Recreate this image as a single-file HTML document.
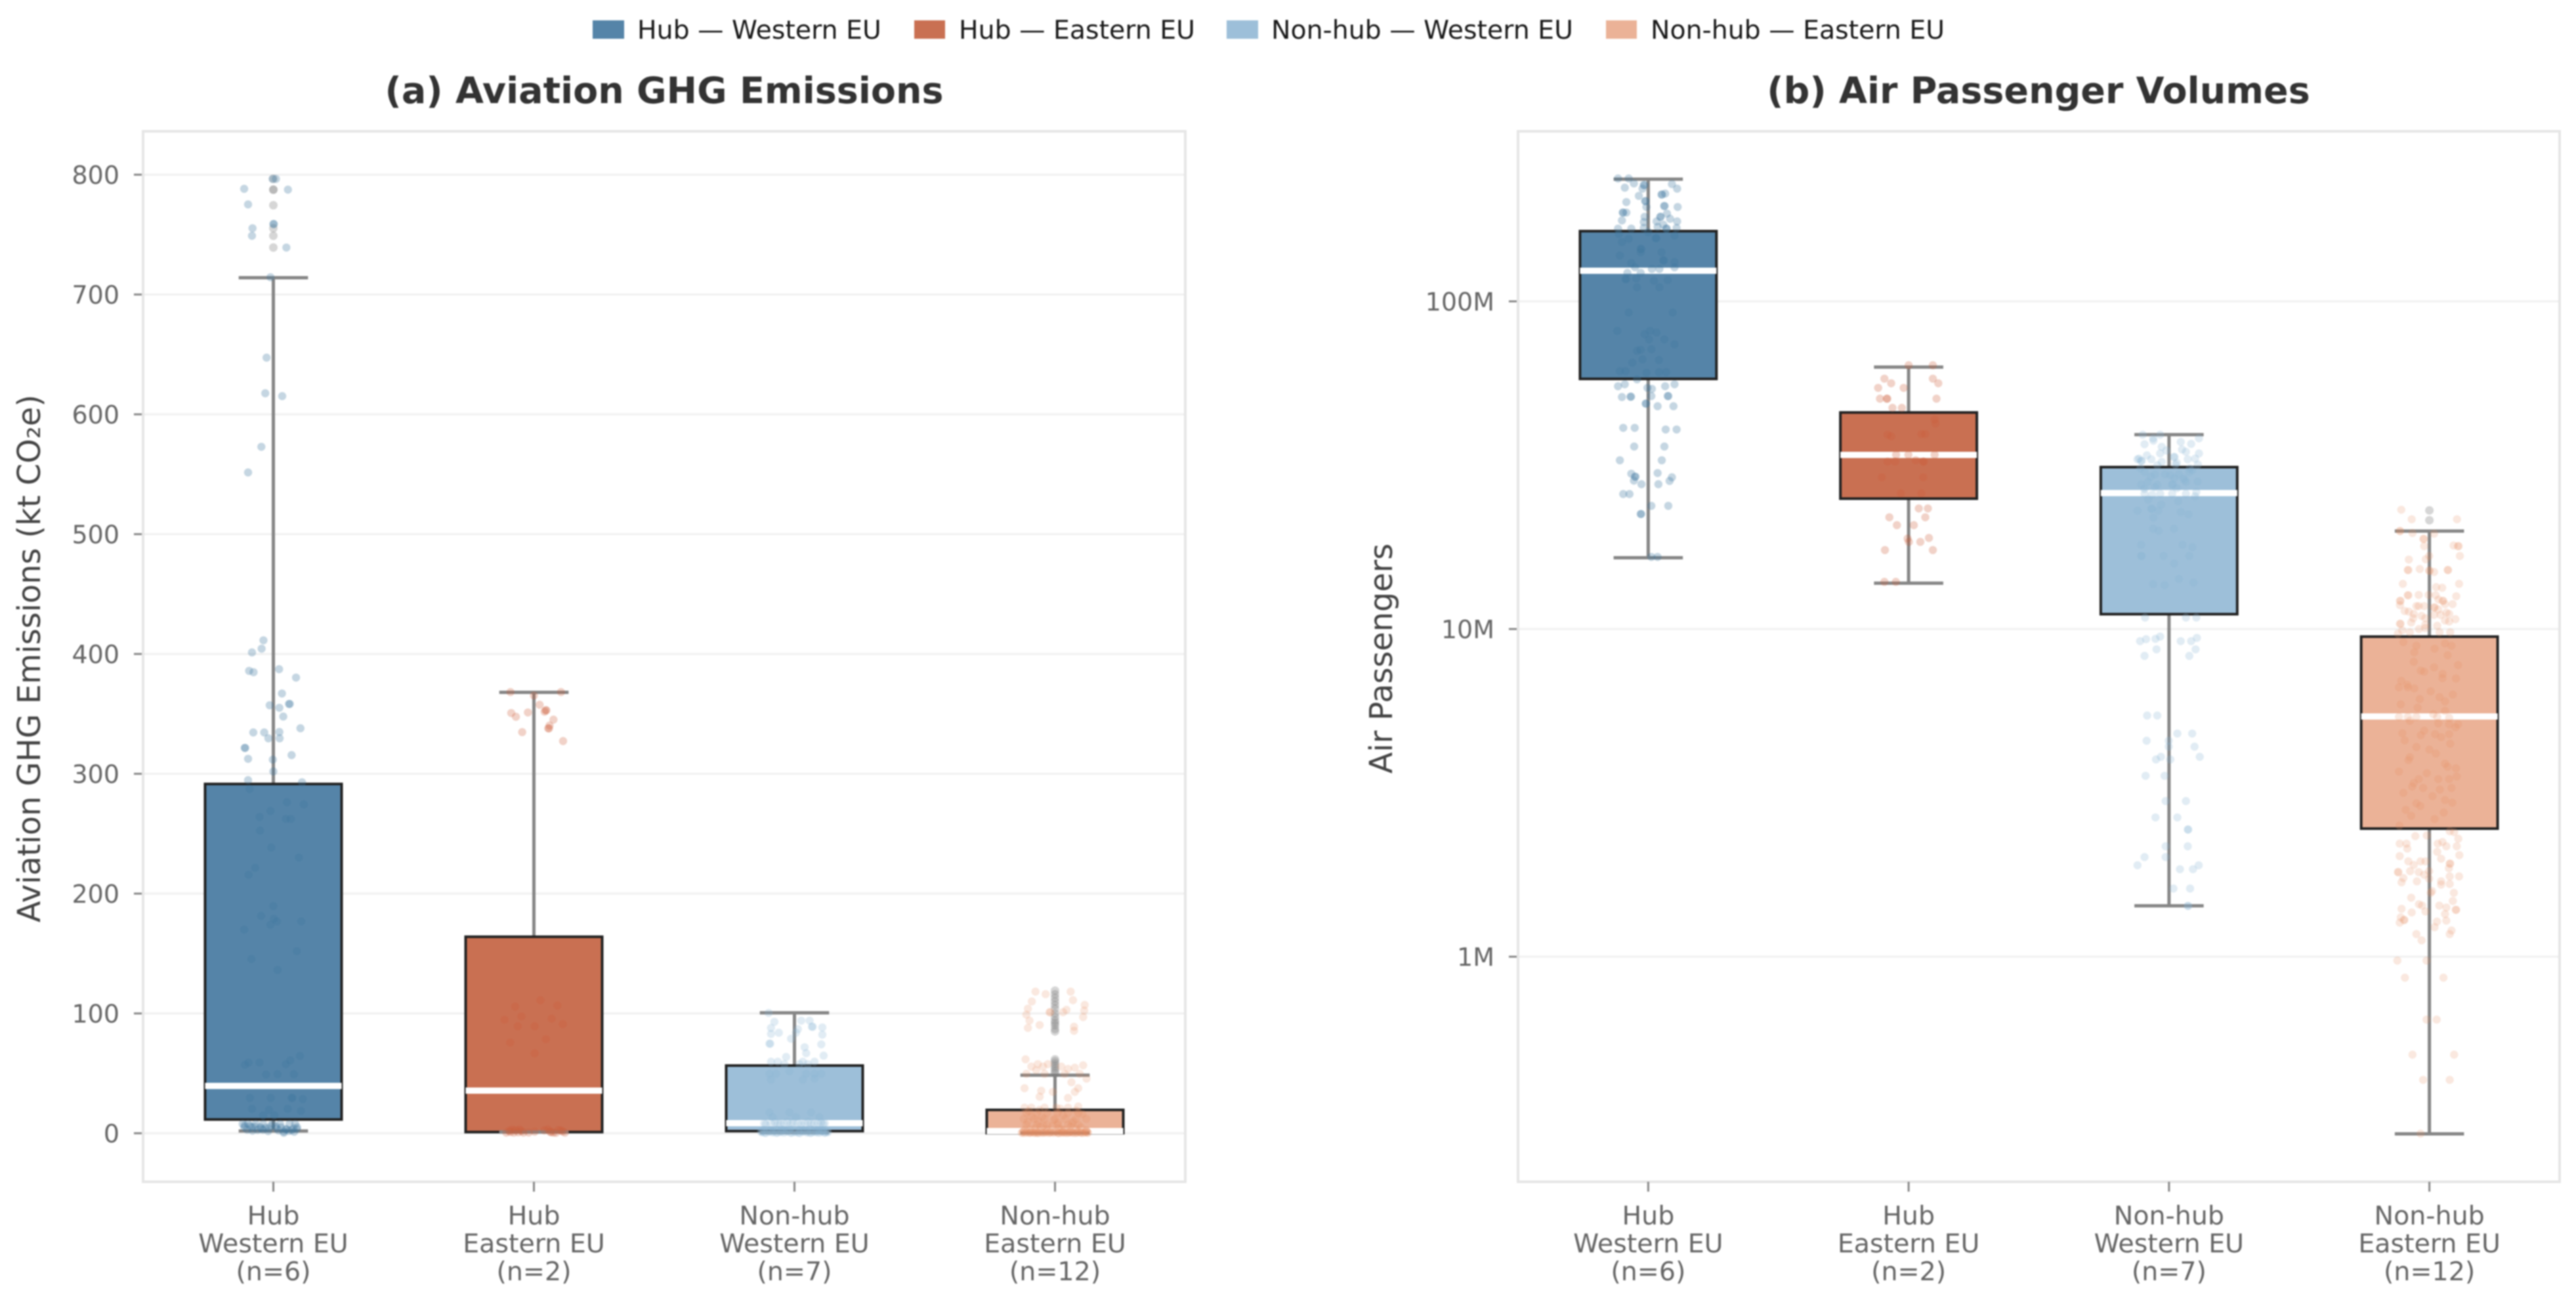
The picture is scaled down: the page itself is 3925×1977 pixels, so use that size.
<!DOCTYPE html>
<html lang="en">
<head>
<meta charset="utf-8">
<title>Aviation GHG Emissions and Air Passenger Volumes</title>
<style>
html,body{margin:0;padding:0;background:#fff;}
svg{display:block;font-family:"DejaVu Sans","Liberation Sans",sans-serif;filter:blur(1px);}
</style>
</head>
<body>
<svg id="chart" xmlns="http://www.w3.org/2000/svg" width="3925" height="1977" viewBox="0 0 3925 1977">
  <rect x="0" y="0" width="3925" height="1977" fill="#fff"/>
  <g>
    <g>
      <rect x="903" y="31" width="48" height="28" fill="#5584a8"/>
      <text x="971" y="59" font-size="39.4" fill="#1a1a1a">Hub — Western EU</text>
    </g>
    <g>
      <rect x="1393" y="31" width="47" height="28" fill="#c97052"/>
      <text x="1461" y="59" font-size="39.4" fill="#1a1a1a">Hub — Eastern EU</text>
    </g>
    <g>
      <rect x="1869" y="31" width="48" height="28" fill="#9dbfd9"/>
      <text x="1937" y="59" font-size="39.4" fill="#1a1a1a">Non-hub — Western EU</text>
    </g>
    <g>
      <rect x="2447" y="31" width="47" height="28" fill="#ebb297"/>
      <text x="2515" y="59" font-size="39.4" fill="#1a1a1a">Non-hub — Eastern EU</text>
    </g>
  </g>
  <text x="1012" y="157" font-size="55.5" font-weight="700" fill="#333" text-anchor="middle">(a) Aviation GHG Emissions</text>
  <text x="3106" y="157" font-size="55.5" font-weight="700" fill="#333" text-anchor="middle">(b) Air Passenger Volumes</text>
  <text transform="translate(61 1003) rotate(-90)" font-size="47.8" fill="#444" text-anchor="middle">Aviation GHG Emissions (kt CO₂e)</text>
  <text transform="translate(2121 1003) rotate(-90)" font-size="47.8" fill="#444" text-anchor="middle">Air Passengers</text>
  <g id="panel-a"></g>
  <g id="panel-b"></g>
</svg>
<script>
// Categories
const categoryLines = [["Hub","Western EU","(n=6)"],["Hub","Eastern EU","(n=2)"],["Non-hub","Western EU","(n=7)"],["Non-hub","Eastern EU","(n=12)"]];
const categorySlugs = ["hub-western","hub-eastern","nonhub-western","nonhub-eastern"];

// Panel (a): tick values and box statistics, kt CO2e
const ghgTicks = [0,100,200,300,400,500,600,700,800];
const ghgWhiskerLow = [1.9,1,0.5,0.2];
const ghgQ1 = [11.5,1,1.8,0.1];
const ghgMedian = [39.5,35.6,8.4,1.8];
const ghgQ3 = [291.5,164,56.5,19.5];
const ghgWhiskerHigh = [714,368,100.5,48.5];

// Panel (a): observations (value) and horizontal jitter (fraction of a category slot)
const ghgHubWest = [796.5,796.5,788.2,787.5,775.2,755.3,758.8,758.8,749,739.2,
714.4,647.3,617.6,615.2,572.9,551.5,411.4,404.4,401.3,385.9,
384.8,387.3,380.3,367,357.2,355.1,358.3,358.3,347.8,338,
334.5,334.5,334.9,329.6,329.6,321.6,321.6,312.5,311.8,315.6,
302,294.7,292.9,287.3,276.3,274.5,269,264,262.3,262.3,
252.6,238.5,230.1,221.5,215.7,189.6,181.4,179,176.8,174,
176.8,170,152,145.4,136.3,64.5,60.8,57.7,59,59,
57.2,49,49.3,49.3,29.5,29.5,29.5,29.5,28.6,20.4,
19.5,20.4,18.6,15,15,7.7,7.7,7.7,7.7,7.7,
7.7,7.7,5,5,4,4,4,3.2,4,0.4,5,7.7];
const ghgHubWestJitter = [-.003,.01,-.112,.056,-.097,-.08,0,.002,-.082,.05,
-.011,-.026,-.031,.034,-.046,-.097,-.038,-.045,-.082,-.093,
-.076,.022,.087,.033,-.014,.023,.06,.063,.038,.104,
-.077,-.035,.023,.024,-.019,-.11,-.108,-.097,-.002,.07,
0,-.097,.11,-.091,.052,.117,-.011,-.053,.048,.067,
-.051,-.008,.098,-.07,-.095,0,-.047,.002,.014,-.011,
.107,-.112,.09,-.084,.016,.102,.065,.048,-.053,-.095,
-.109,-.028,.016,.079,-.09,-.01,.07,.073,.113,-.082,
-.017,.055,.106,-.039,.004,-.097,-.068,-.039,-.003,.026,
.062,.084,-.111,-.082,-.046,-.017,.012,.048,.077,.04,.091,-.118];
const ghgHubWestDense = [6.5,6,5.5,5,4.5,6.2,5.8,4.8,3.5,2.6,3,2.2,2.8,1.8,2.4,1.5,2,1.2,3.6,2.9];
const ghgHubWestDenseJitter = [-.11,-.09,-.07,-.05,-.03,-.01,.01,.03,.05,.07,-.1,-.08,-.06,-.02,.02,.04,.06,.08,.09,-.04];

const ghgHubEast = [368.2,368.2,365.3,357.6,353,353,351.8,350.7,347.6,351.2,
345.2,340.3,337.9,337.9,334.8,327.3,111,106.6,105.7,97.5,
94.8,95.7,91.1,89.3,89.3,78.5,75.7,66.7,3.2,0.5,
3.2,0.5,1.3,3.2,0.5,2.3,0.5,0.5];
const ghgHubEastJitter = [-.09,.104,0,.022,.045,.048,.041,-.087,-.069,-.023,
.075,.06,.055,.058,-.045,.112,.025,.09,-.072,-.048,
-.113,.068,.111,-.062,.003,.046,-.091,.003,-.084,-.106,
-.055,-.04,.003,.054,.075,.104,.119,-.077];
const ghgHubEastDense = [2,1,2.6,0.8,1.8,0.6,2.4,1.2,0.4,2.8,1.5,0.9];
const ghgHubEastDenseJitter = [-.095,-.09,-.07,-.06,-.048,-.02,.04,.062,.085,.095,.11,.066];

const ghgNonhubWest = [100.4,93,94,94,88.9,88.9,88.3,87.9,86.9,83.9,
82.9,83.9,82.3,78.9,74.8,74.8,74.2,71.8,66.8,64.8,
63.7,59.7,59.7,59.7,59.7,57.7,57.7,57.7,49.6,49.6,
49.6,49.6,49.6,44.6,44.6,45.6,51.7,17.4,17.4,17.4,
13.4,13.4,13.4,8.3,8.3,8.3,8.3,8.3,8.3,8.3,
8.3,8.3,8.3,1.3,1.3,1.3,1.3,1.3,1.3,1.3,
1.3,1.3,1.3,1.3,0.5,0.5,0.5,0.5,0.5,0.5,
2.4,2.4,2.4,2.4];
const ghgNonhubWestJitter = [-.099,-.077,.026,.058,.067,.07,.107,-.09,.013,-.06,
-.09,.006,.107,-.013,-.096,-.093,.103,.039,.045,.112,
-.032,-.064,-.09,.032,.077,-.039,.019,.051,-.096,-.071,
.045,.077,.103,-.09,.032,.077,-.019,-.096,-.019,.064,
-.084,.006,.096,-.116,-.09,-.064,-.04,-.013,.013,.04,
.064,.09,.116,-.128,-.1,-.08,-.05,-.03,0,.03,
.05,.08,.1,.125,-.115,-.065,-.015,.015,.065,.115,
-.09,-.04,.04,.09];
const ghgNonhubWestDense = [0.9,0.2,1.6,0.7,0.3,1.1,0.5,1.8,0.4,1,0.2,1.4,0.6,0.3,1.2,0.8,0.4,1.7,0.5,0.9,
7.6,9,7.9,9.2,8.6,7.4,9.3,8,8.8,7.7,1.9,2.8,3.2,2.2,3.5,2.6,3,2.1];
const ghgNonhubWestDenseJitter = [-.125,-.11,-.095,-.085,-.07,-.055,-.04,-.025,-.01,.005,.02,.035,.048,.06,.072,.085,.095,.108,.118,.128,
-.11,-.075,-.055,-.028,-.005,.025,.052,.075,.102,.11,-.12,-.07,-.02,.02,.06,.09,-.045,.11];

const ghgNonhubEast = [118.2,116.1,118.2,110,111.1,107.1,104,103,102.4,101,
101,99,101,97,94,90.3,88.9,87.9,85.5,61.7,
55.7,57.7,55.7,57.7,55.7,53.7,56.7,54.7,49.6,52.7,
49.6,49.6,49.6,45.6,42.6,37.6,37.6,35.5,34.5,34.5,
30.5,29.5,21.4,21.4,21.4,21.4,21.4,22.4,17,17,
17,17,17,17,12,12,12,12,12,12,
12,7,7,7,7,7,7,0.6,0.6,0.6,
0.6,0.6,0.6,0.6,0.6,0.6,0.6,0.6,0.6,0.6,
0.6,0.6,0.6,0.6,0.6,1.6,1.6,1.6,1.6,1.6,
1.6,1.6,1.6,1.6];
const ghgNonhubEastJitter = [-.075,-.036,.06,-.089,.069,.114,-.104,.044,.112,-.021,
-.018,-.11,.031,.108,-.098,-.059,.073,-.104,.073,-.113,
-.091,-.066,-.046,-.027,.024,.05,.108,.076,-.11,-.072,
-.04,.037,.095,.121,.063,-.117,.089,-.053,-.008,.076,
-.059,.05,-.117,-.091,-.04,.005,.05,.089,-.11,-.07,
-.03,.01,.05,.09,-.12,-.08,-.04,0,.04,.08,
.12,-.11,-.07,-.03,.01,.05,.09,-.125,-.11,-.095,
-.08,-.065,-.05,-.035,-.02,-.005,.01,.025,.04,.055,
.07,.085,.1,.115,.125,-.12,-.09,-.06,-.03,0,
.03,.06,.09,.12];
const ghgNonhubEastDense = [0.4,0.2,1,0.3,0.8,0.5,1.2,0.2,0.9,0.4,1.1,0.3,0.7,0.5,1.3,0.2,0.9,0.6,0.3,1,
0.5,0.3,1.2,0.7,0.2,0.9,0.4,1.4,0.6,0.3,0.8,1.1,0.2,0.5,1,0.4,0.7,1.3,0.3,0.6,
2.8,3.5,4.4,5.2,3.1,6,4,2.6,5.5,3.8,4.8,2.4,6.4,3.3,9.5,10.4,11.2,8.6,14,15,16,13.5,9,10,18.5,19.5,20.5,19];
const ghgNonhubEastDenseJitter = [-.128,-.118,-.108,-.1,-.09,-.082,-.072,-.062,-.052,-.044,-.034,-.024,-.014,-.004,.006,.016,.026,.036,.046,.056,
.066,.076,.086,.096,.106,.116,.126,-.122,-.096,-.068,-.042,-.018,.012,.032,.062,.082,.102,.122,-.075,.05,
-.115,-.095,-.075,-.055,-.03,-.01,.015,.035,.06,.08,.1,.12,-.045,.025,-.105,-.065,-.005,.065,-.09,.03,.105,-.05,.012,.07,-.1,-.06,.02,.08];

// Panel (a): outliers, one list per category
const ghgHubWestFliers = [796.5,787.5,787.5,774.5,755.3,749,739.2];
const ghgHubEastFliers = [];
const ghgNonhubWestFliers = [];
const ghgNonhubEastFliers = [119,116,113,110,107,104,100,97,94,92,90,87,85,61.7,60,58,56,54,52,50];

// Panel (b): tick values (millions) and labels
const paxTicks = [100,10,1];
const paxTickLabels = ["100M","10M","1M"];
// Panel (b): box statistics, millions of passengers
const paxWhiskerLow = [16.5,13.8,1.43,0.288];
const paxQ1 = [58,25,11.1,2.46];
const paxMedian = [124,34,26,5.41];
const paxQ3 = [163.8,45.8,31.2,9.48];
const paxWhiskerHigh = [236,63,39.2,19.9];

// Panel (b): observations as log10(passengers) and horizontal jitter
const paxHubWest = [8.375,8.375,8.36,8.355,8.355,8.344,8.347,8.358,8.344,8.322,
8.326,8.326,8.329,8.303,8.306,8.306,8.288,8.291,8.291,8.288,
8.271,8.271,8.271,8.268,8.258,8.258,8.258,8.252,8.247,8.244,
8.242,8.244,8.234,8.222,8.222,8.224,8.227,8.222,8.222,8.224,
8.206,8.211,8.191,8.193,8.193,8.201,8.16,8.16,8.181,8.15,
8.14,8.125,8.125,8.12,8.117,8.15,8.104,8.099,8.099,8.104,
8.087,8.087,8.068,8.068,8.07,8.063,8.065,8.043,8.043,7.966,
7.966,7.91,7.91,7.9,7.905,7.884,7.884,7.869,7.852,7.854,
7.849,7.823,7.821,7.813,7.787,7.787,7.782,7.784,7.784,7.762,
7.741,7.747,7.736,7.733,7.741,7.747,7.708,7.709,7.709,7.711,
7.711,7.711,7.688,7.688,7.68,7.68,7.614,7.614,7.609,7.609,
7.557,7.557,7.515,7.515,7.474,7.465,7.465,7.476,7.463,7.452,
7.453,7.442,7.442,7.412,7.412,7.376,7.376,7.351,7.351,7.22,7.22];
const paxHubWestJitter = [-.116,-.075,-.055,-.017,-.015,-.022,-.09,.091,.111,-.036,
.051,.053,.065,-.084,-.012,-.01,-.007,.061,.063,.113,
-.098,-.096,-.084,.072,.046,.048,-.014,.084,-.101,.111,
-.017,.032,.058,-.116,-.065,-.017,.036,.069,.071,.109,
-.113,0,-.075,.029,.031,.101,-.029,-.027,-.101,.051,
-.109,.058,.06,.101,-.065,-.029,-.051,.014,.043,.101,
-.08,-.029,-.087,-.085,-.046,.022,.075,-.043,.043,-.075,
.094,-.119,.007,-.014,.032,.003,.062,.101,-.029,.012,
-.043,-.022,.041,-.061,-.109,-.087,-.007,.041,.069,-.043,
-.116,-.09,-.003,.014,.065,.101,-.101,-.068,-.066,.012,
.075,.077,-.01,-.008,.036,.097,-.096,-.052,.067,.109,
-.054,.062,-.109,.052,-.065,-.051,-.049,.036,.091,.082,
-.055,-.026,.039,-.096,-.072,.012,.077,-.029,-.027,.012,.036];

const paxHubEast = [7.805,7.805,7.764,7.764,7.75,7.75,7.736,7.736,7.703,7.703,
7.703,7.703,7.675,7.675,7.639,7.627,7.593,7.588,7.595,7.595,
7.532,7.532,7.532,7.511,7.511,7.515,7.511,7.511,7.463,7.463,
7.414,7.414,7.368,7.368,7.341,7.341,7.317,7.317,7.276,7.278,
7.266,7.266,7.241,7.241,7.144,7.144];
const paxHubEastJitter = [0,.093,-.093,.093,-.067,.114,-.117,-.019,-.11,-.084,
-.082,.107,-.062,-.026,.1,.103,-.081,-.067,.049,.064,
-.048,-.001,.1,-.081,-.052,.027,.056,.058,-.103,.056,
-.03,.049,.039,.074,-.074,.064,-.045,.02,-.004,.078,
.001,.045,-.091,.093,-.093,-.049];

const paxNonhubWest = [7.593,7.593,7.582,7.564,7.556,7.571,7.582,7.518,7.513,7.513,
7.536,7.525,7.525,7.541,7.536,7.518,7.518,7.51,7.502,7.502,
7.479,7.472,7.472,7.472,7.479,7.449,7.441,7.441,7.449,7.441,
7.433,7.418,7.413,7.413,7.413,7.413,7.361,7.367,7.367,7.361,
7.357,7.306,7.306,7.257,7.257,7.223,7.223,7.223,7.223,7.137,
7.134,7.153,7.142,7.035,7.035,7.035,6.963,6.969,6.97,6.977,
6.963,6.963,6.973,6.938,6.938,6.918,6.918,6.736,6.736,6.681,
6.681,6.659,6.659,6.641,6.641,6.602,6.61,6.602,6.61,6.552,
6.552,6.475,6.475,6.425,6.425,6.388,6.388,6.337,6.337,6.304,
6.304,6.279,6.267,6.267,6.279,6.208,6.208,6.155,6.155];
const paxNonhubWestJitter = [-.101,-.034,.115,-.094,-.028,.045,-.061,-.068,-.107,-.105,
-.034,.019,.021,.065,.115,.072,-.121,-.028,.025,.111,
-.094,-.054,-.015,.038,.078,-.081,.012,.014,.065,-.107,
-.054,.105,-.094,-.034,.012,.065,-.121,-.068,-.066,-.041,
.045,-.061,.019,-.107,.052,-.107,-.105,-.021,.078,-.061,
-.017,.038,.094,-.092,.065,.105,-.111,-.088,-.052,-.034,
.045,.085,.107,.102,-.048,-.094,.078,-.084,-.045,.032,
.089,-.086,-.001,-.001,.098,-.05,-.031,.005,.118,-.09,
-.017,-.013,.065,-.052,.032,.072,.074,-.013,.072,-.094,
-.013,-.121,.042,.092,.114,.017,.081,.072,.074];
const paxNonhubWestDense = [7.575,7.548,7.53,7.507,7.49,7.485,7.465,7.455,7.46,7.428,7.44,7.405,7.395,7.39,7.38,7.35,7.34,7.3,7.25,7.2,
7.565,7.545,7.52,7.5,7.47,7.45,7.43,7.41,7.52,7.49,7.46];
const paxNonhubWestDenseJitter = [-.06,.05,-.085,.03,-.11,.09,-.07,.06,.02,-.095,-.045,.1,-.08,.035,-.03,.075,-.06,-.04,.09,.02,
.085,-.01,.1,-.045,.005,.11,.03,-.065,-.115,.08,.055];

const paxNonhubEast = [7.364,7.335,7.335,7.299,7.299,7.293,7.291,7.275,7.275,7.253,
7.255,7.253,7.253,7.223,7.212,7.213,7.223,7.18,7.18,7.183,
7.178,7.178,7.174,7.18,7.18,7.138,7.138,7.128,7.126,7.103,
7.103,7.104,7.104,7.103,7.1,7.086,7.086,7.073,7.086,7.086,
7.076,7.07,7.07,7.066,7.066,7.076,7.053,7.046,7.06,7.046,
7.033,7.033,7.043,7.043,7.026,7.023,7.016,7.016,7.013,6.996,
7.003,6.99,6.99,6.986,6.949,6.956,6.949,6.929,6.883,6.873,
6.842,6.822,6.819,6.849,6.863,6.822,6.786,6.792,6.779,6.732,
6.732,6.732,6.732,6.729,6.712,6.709,6.709,6.682,6.676,6.679,
6.679,6.632,6.609,6.589,6.575,6.565,6.542,6.542,6.542,6.519,
6.515,6.515,6.468,6.478,6.448,6.345,6.345,6.368,6.383,6.36,
6.345,6.337,6.337,6.307,6.291,6.291,6.291,6.299,6.284,6.284,
6.258,6.258,6.261,6.258,6.261,6.227,6.23,6.238,6.23,6.245,
6.245,6.222,6.195,6.195,6.146,6.156,6.135,6.138,6.156,6.15,
6.143,6.143,6.112,6.112,6.104,6.107,6.11,6.069,6.069,5.988,
5.988,5.936,5.936,5.808,5.808,5.701,5.701,5.624,5.624,5.46];
const paxNonhubEastJitter = [-.108,-.068,.106,-.114,-.112,-.065,.018,-.023,-.021,-.02,
.093,.11,.112,.117,-.079,-.014,-.001,-.083,-.081,-.037,
-.001,.001,.018,.07,.072,-.102,.114,.026,.049,-.083,
-.081,-.041,-.003,.024,.103,-.113,-.111,-.113,.051,.053,
.089,-.041,-.02,.018,.02,.06,-.079,-.06,.034,.076,
-.062,-.016,.018,.043,.06,.076,-.113,-.111,-.016,-.104,
-.016,.039,-.075,-.121,-.05,.06,.085,-.058,.018,-.033,
-.108,-.083,-.058,.102,.051,-.117,-.037,.039,.06,-.117,
-.083,-.05,.03,.076,.034,.076,.11,-.104,-.033,.022,
.076,0,-.075,.06,.102,-.117,-.041,.034,.076,-.066,
-.024,.085,-.05,.06,-.091,-.114,-.088,-.054,.078,.111,
.032,.065,.105,-.114,-.081,-.034,-.015,.045,.078,.08,
-.121,-.119,-.074,-.041,-.001,-.107,-.048,-.001,.045,.078,
.114,.078,.005,.094,-.107,-.028,-.068,-.015,.038,.065,
.101,.103,-.098,-.096,-.114,.029,.065,-.05,.078,-.123,
-.011,-.094,.054,-.011,.028,-.065,.095,-.024,.078,-.034];
const paxNonhubEastDense = [7.09,7.07,7.055,7.05,7.04,7.03,7.02,7.01,7,6.99,
6.96,6.94,6.92,6.9,6.89,6.87,6.85,6.83,6.81,6.8,
6.77,6.76,6.75,6.74,6.72,6.7,6.69,6.67,6.66,6.65,
6.64,6.62,6.6,6.58,6.56,6.55,6.53,6.51,6.5,6.49,
6.47,6.46,6.44,6.43,6.42,6.4,6.38,6.37,6.35,6.33,
6.32,6.31,6.28,6.27,6.25,6.24,6.22,6.2,6.18,6.17,
6.16,6.13,6.12,6.09,6.08,6.05];
const paxNonhubEastDenseJitter = [.035,-.05,-.095,.065,-.03,.1,-.07,.03,-.04,.08,
-.1,.02,.07,-.06,.11,-.02,.05,-.085,.005,.09,
-.11,-.045,.06,.015,-.075,.1,-.02,.045,-.095,.08,
-.05,.025,-.08,.07,-.01,.105,-.06,.04,-.1,.012,
.088,-.035,.055,-.07,.02,-.115,.095,-.01,.05,-.085,
.03,.115,-.06,.075,-.02,-.1,.045,.01,-.07,.09,
-.04,.06,-.11,.02,.085,-.03];

// Panel (b): outliers as log10(passengers)
const paxHubWestFliers = [];
const paxHubEastFliers = [];
const paxNonhubWestFliers = [];
const paxNonhubEastFliers = [7.362,7.332];

// Styling (not data)
const boxFills = ["#5584a8","#c97052","#9dbfd9","#ebb297"];
const dotFills = ["#3f76a0","#cd5f3a","#87b2d4","#e48a5f"];
const dotAlpha = [0.3,0.28,0.25,0.2];
const SVGNS = "http://www.w3.org/2000/svg";
const PLOT_TOP = 200, PLOT_BOTTOM = 1800;

function make(parent, tag, attrs, text) {
  const el = document.createElementNS(SVGNS, tag);
  for (const k in attrs) el.setAttribute(k, attrs[k]);
  if (text !== undefined) el.textContent = text;
  parent.appendChild(el);
  return el;
}

// Axis functions
const xScale = (left, right) => c => left + (c + 0.5) * (right - left) / 4;
const yLinear = v => PLOT_BOTTOM + (v + 40.5) * (PLOT_TOP - PLOT_BOTTOM) / 876.7;
const yLogMillions = m => PLOT_BOTTOM + (Math.log10(m) + 0.687) * (PLOT_TOP - PLOT_BOTTOM) / 3.206;
const yLogPassengers = l => yLogMillions(Math.pow(10, l) / 1e6);

function drawPanel(cfg) {
  const g = document.getElementById(cfg.id);
  const x = xScale(cfg.left, cfg.right);
  const slot = (cfg.right - cfg.left) / 4;

  cfg.ticks.forEach((t, i) => {
    const y = cfg.y(t);
    const grid = make(g, "line", {x1: cfg.left, x2: cfg.right, y1: y, y2: y, stroke: "#f0f0f0", "stroke-width": 3});
    
    
    const tick = make(g, "line", {x1: cfg.left - 14, x2: cfg.left, y1: y, y2: y, stroke: "#888", "stroke-width": 3});
    
    
    const label = make(g, "text", {x: cfg.left - 36, y: y + 14, "font-size": 38, fill: "#666", "text-anchor": "end"}, cfg.tickLabels[i]);
    
    
  });

  const frame = make(g, "rect", {x: cfg.left, y: PLOT_TOP, width: cfg.right - cfg.left, height: PLOT_BOTTOM - PLOT_TOP, fill: "none", stroke: "#e6e6e6", "stroke-width": 4});
  
  

  categoryLines.forEach((lines, c) => {
    const cx = x(c);
    const tick = make(g, "line", {x1: cx, x2: cx, y1: PLOT_BOTTOM, y2: PLOT_BOTTOM + 15, stroke: "#888", "stroke-width": 3});
    
    
    lines.forEach((line, n) => {
      const label = make(g, "text", {x: cx, y: 1865 + 42.5 * n, "font-size": 39.5, fill: "#666", "text-anchor": "middle"}, line);
      
      
    });

    const halfBox = slot * 0.262, halfCap = slot * 0.133;
    const yLow = cfg.scaleStats(cfg.whiskerLow[c]), yQ1 = cfg.scaleStats(cfg.q1[c]), yMed = cfg.scaleStats(cfg.median[c]);
    const yQ3 = cfg.scaleStats(cfg.q3[c]), yHigh = cfg.scaleStats(cfg.whiskerHigh[c]);

    const whiskerLow = make(g, "line", {x1: cx, x2: cx, y1: yQ1, y2: yLow, stroke: "#868686", "stroke-width": 5});
    
    
    const whiskerHigh = make(g, "line", {x1: cx, x2: cx, y1: yQ3, y2: yHigh, stroke: "#868686", "stroke-width": 5});
    
    

    const box = make(g, "rect", {x: cx - halfBox, y: yQ3, width: halfBox * 2, height: Math.abs(yQ1 - yQ3), fill: boxFills[c], stroke: "#222", "stroke-width": 4});
    
    

    const median = make(g, "line", {x1: cx - halfBox, x2: cx + halfBox, y1: yMed, y2: yMed, stroke: "#fff", "stroke-width": 9.5});
    
    

    const capLow = make(g, "line", {x1: cx - halfCap, x2: cx + halfCap, y1: yLow, y2: yLow, stroke: "#868686", "stroke-width": 5});
    
    
    const capHigh = make(g, "line", {x1: cx - halfCap, x2: cx + halfCap, y1: yHigh, y2: yHigh, stroke: "#868686", "stroke-width": 5});
    
    

    cfg.fliers[c].forEach(v => {
      const flier = make(g, "circle", {cx: cx, cy: cfg.scalePoints(v), r: 6.5, fill: "#777", "fill-opacity": 0.3});
      
      
    });

    cfg.points[c].forEach((v, i) => {
      const dot = make(g, "circle", {cx: cx + (cfg.jitter[c][i] || 0) * slot, cy: cfg.scalePoints(v), r: 6.2, fill: dotFills[c], "fill-opacity": dotAlpha[c]});
      
      
    });
  });
}

drawPanel({
  id: "panel-a", left: 218, right: 1806, y: yLinear, scaleStats: yLinear, scalePoints: yLinear,
  ticks: ghgTicks, tickLabels: ghgTicks.map(String),
  whiskerLow: ghgWhiskerLow, q1: ghgQ1, median: ghgMedian, q3: ghgQ3, whiskerHigh: ghgWhiskerHigh,
  points: [ghgHubWest.concat(ghgHubWestDense), ghgHubEast.concat(ghgHubEastDense), ghgNonhubWest.concat(ghgNonhubWestDense), ghgNonhubEast.concat(ghgNonhubEastDense)],
  jitter: [ghgHubWestJitter.concat(ghgHubWestDenseJitter), ghgHubEastJitter.concat(ghgHubEastDenseJitter), ghgNonhubWestJitter.concat(ghgNonhubWestDenseJitter), ghgNonhubEastJitter.concat(ghgNonhubEastDenseJitter)],
  fliers: [ghgHubWestFliers, ghgHubEastFliers, ghgNonhubWestFliers, ghgNonhubEastFliers]
});
drawPanel({
  id: "panel-b", left: 2313, right: 3900, y: yLogMillions, scaleStats: yLogMillions, scalePoints: yLogPassengers,
  ticks: paxTicks, tickLabels: paxTickLabels,
  whiskerLow: paxWhiskerLow, q1: paxQ1, median: paxMedian, q3: paxQ3, whiskerHigh: paxWhiskerHigh,
  points: [paxHubWest, paxHubEast, paxNonhubWest.concat(paxNonhubWestDense), paxNonhubEast.concat(paxNonhubEastDense)],
  jitter: [paxHubWestJitter, paxHubEastJitter, paxNonhubWestJitter.concat(paxNonhubWestDenseJitter), paxNonhubEastJitter.concat(paxNonhubEastDenseJitter)],
  fliers: [paxHubWestFliers, paxHubEastFliers, paxNonhubWestFliers, paxNonhubEastFliers]
});
</script>
</body>
</html>
